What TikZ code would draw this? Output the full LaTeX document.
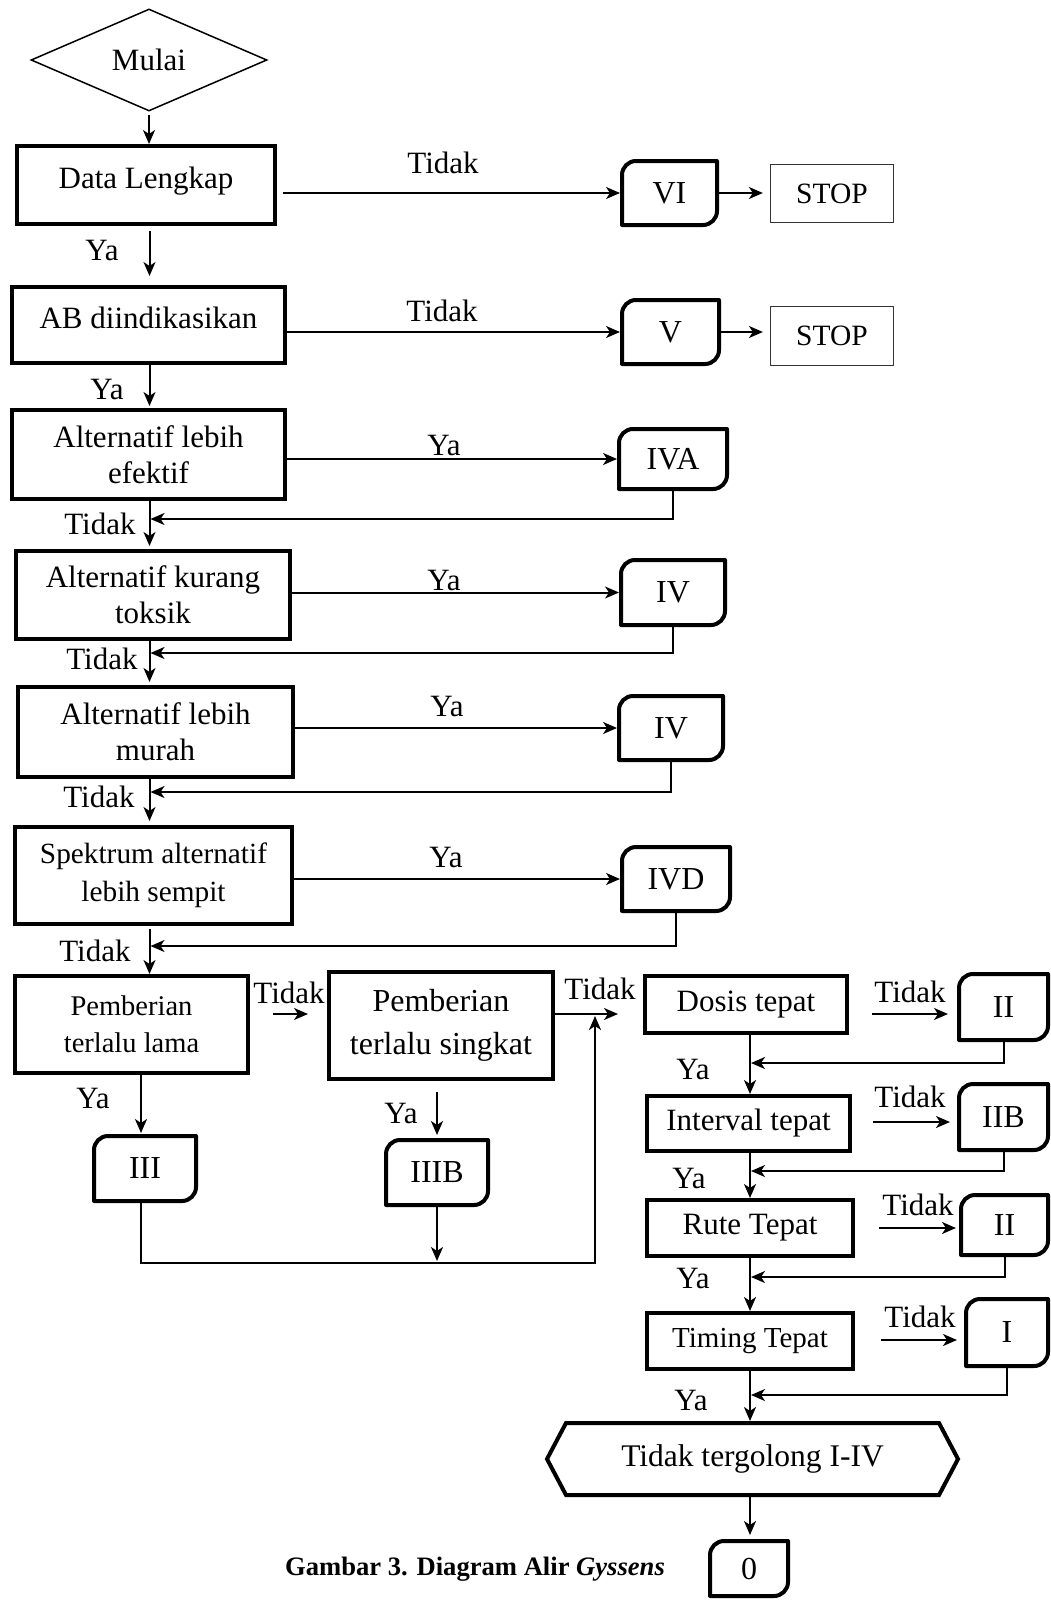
\documentclass[tikz,border=0pt]{standalone}
\usepackage{fontspec}
\setmainfont{Liberation Serif}
\usetikzlibrary{shapes.geometric,arrows.meta,calc}
\newcommand\fsz[2]{\fontsize{#1}{#2}\selectfont}
\newcommand\resbox[5]{%
 \node[resn,minimum width=#3,minimum height=#4] (#1) at #2 {#5};
 \draw[resl] ([xshift=14pt]#1.north west) -- (#1.north east) -- ([yshift=14pt]#1.south east)
   .. controls ([yshift=6.3pt]#1.south east) and ([xshift=-6.3pt]#1.south east) .. ([xshift=-14pt]#1.south east) -- (#1.south west)
   -- ([yshift=-14pt]#1.north west) .. controls ([yshift=-6.3pt]#1.north west) and ([xshift=6.3pt]#1.north west) .. ([xshift=14pt]#1.north west) -- cycle;}
\begin{document}
\begin{tikzpicture}[x=1pt,y=-1pt,
 box/.style={draw,line width=4pt,inner sep=0pt,align=center,font=\fsz{31}{36}},
 resn/.style={inner sep=0pt,outer sep=0pt,font=\fsz{32}{36}},
 resl/.style={line width=4pt,line join=round},
 stopbox/.style={draw=black!80,line width=1.2pt,inner sep=0pt,font=\fsz{29.5}{34}},
 arr/.style={line width=2pt,-{Stealth[length=14pt,width=12pt,inset=4pt]}},
 lbl/.style={inner sep=0pt,font=\fsz{31}{36}},
]
\path[fill=white,use as bounding box] (0,0) rectangle (1051,1600);

% helper coordinates
\coordinate (mx) at (149.5,0);
\coordinate (c3) at (141,0);
\coordinate (mx3) at (750,0);
\coordinate (rowA) at (0,1014);
\coordinate (rowB) at (0,1122);
\coordinate (rowC) at (0,1228);
\coordinate (rowD) at (0,1340);
\coordinate (ra) at (0,519);
\coordinate (rb) at (0,653);
\coordinate (rc) at (0,792);
\coordinate (rd) at (0,946);
\coordinate (re) at (0,1063);
\coordinate (rf) at (0,1171);
\coordinate (rg) at (0,1277);
\coordinate (rh) at (0,1395);
\coordinate (loopR) at (595,1263);

% start
\node[draw,diamond,line width=1.5pt,minimum width=236pt,minimum height=102pt,inner sep=0pt,font=\fsz{31}{36}] (mulai) at (149,60) {Mulai};

% main boxes
\node[box,minimum width=258pt,minimum height=78pt,text depth=14pt] (data) at (146,185) {Data Lengkap};
\node[box,minimum width=273pt,minimum height=76pt,text depth=14pt] (ab) at (148.5,325) {AB diindikasikan};
\node[box,minimum width=273pt,minimum height=89pt] (efektif) at (148.5,454.5) {Alternatif lebih\\efektif};
\node[box,minimum width=274pt,minimum height=88pt] (toksik) at (153,595) {Alternatif kurang\\toksik};
\node[box,minimum width=275pt,minimum height=90pt] (murah) at (155.5,732) {Alternatif lebih\\murah};
\node[box,minimum width=277pt,minimum height=97pt,font=\fsz{29.3}{38}] (sempit) at (153.5,875.5) {Spektrum alternatif\\lebih sempit};
\node[box,minimum width=233pt,minimum height=97pt,font=\fsz{28.5}{37}] (p1) at (131.5,1024.5) {Pemberian\\terlalu lama};
\node[box,minimum width=224pt,minimum height=107pt,font=\fsz{32}{43}] (p2) at (441,1025.5) {Pemberian\\terlalu singkat};
\node[box,minimum width=202pt,minimum height=57pt] (dosis) at (746,1004.5) {Dosis tepat};
\node[box,minimum width=203pt,minimum height=55pt] (interval) at (748.5,1123.5) {Interval tepat};
\node[box,minimum width=206pt,minimum height=56pt] (rute) at (750,1228) {Rute Tepat};
\node[box,minimum width=206pt,minimum height=56pt,font=\fsz{29}{34}] (timing) at (750,1341) {Timing Tepat};

% stop boxes
\node[stopbox,minimum width=123pt,minimum height=58pt] (stop1) at (832,193.5) {STOP};
\node[stopbox,minimum width=123pt,minimum height=59pt] (stop2) at (832,336) {STOP};

% result boxes
\resbox{vi}{(669.5,193)}{95pt}{64pt}{VI}
\resbox{v}{(670.5,332)}{97pt}{64pt}{V}
\resbox{iva}{(673,459)}{108pt}{60pt}{IVA}
\resbox{ivx}{(673,592.5)}{104pt}{65pt}{IV}
\resbox{ivy}{(671,728)}{104pt}{64pt}{IV}
\resbox{ivd}{(676,879)}{108pt}{64pt}{IVD}
\resbox{iii}{(145,1168.5)}{102pt}{65pt}{III}
\resbox{iiib}{(437,1172.5)}{102pt}{65pt}{IIIB}
\resbox{iia}{(1003.5,1007)}{89pt}{66pt}{II}
\resbox{iib}{(1003.5,1117)}{89pt}{66pt}{IIB}
\resbox{iic}{(1004.5,1225)}{87pt}{60pt}{II}
\resbox{ione}{(1007,1332.5)}{82pt}{67pt}{I}
\resbox{zero}{(749,1568.5)}{78pt}{55pt}{0}

% hexagon
\node[inner sep=0pt,outer sep=0pt,minimum width=411pt,minimum height=72pt,font=\fsz{31.5}{36}] (hex) at (752.5,1459) {Tidak tergolong I-IV};
\draw[line width=4pt] (hex.west) -- ([xshift=19pt]hex.north west) -- ([xshift=-19pt]hex.north east) -- (hex.east)
  -- ([xshift=-19pt]hex.south east) -- ([xshift=19pt]hex.south west) -- cycle;

% caption
\node[inner sep=0pt,font=\fsz{26.6}{30}] (cap) at (475,1569) {\textbf{Gambar 3. Diagram Alir \textit{Gyssens}}};

% labels
\node[lbl] (t1) at (443,163) {Tidak};
\node[lbl] (t2) at (442,311) {Tidak};
\node[lbl] (y1) at (102,251) {Ya};
\node[lbl] (y2) at (107,389) {Ya};
\node[lbl] (y3) at (444,445) {Ya};
\node[lbl] (y4) at (444,580) {Ya};
\node[lbl] (y5) at (447,706) {Ya};
\node[lbl] (y6) at (446,857) {Ya};
\node[lbl] (t3) at (100,524) {Tidak};
\node[lbl] (t4) at (102,659) {Tidak};
\node[lbl] (t5) at (99,797) {Tidak};
\node[lbl] (t6) at (95,951) {Tidak};
\node[lbl] (t7) at (289,993) {Tidak};
\node[lbl] (t8) at (600,989) {Tidak};
\node[lbl] (y7) at (93,1098) {Ya};
\node[lbl] (y8) at (401,1113) {Ya};
\node[lbl] (t9) at (910,992) {Tidak};
\node[lbl] (t10) at (910,1097) {Tidak};
\node[lbl] (t11) at (918,1205) {Tidak};
\node[lbl] (t12) at (920,1317) {Tidak};
\node[lbl] (y9) at (693,1069) {Ya};
\node[lbl] (y10) at (689,1178) {Ya};
\node[lbl] (y11) at (693,1278) {Ya};
\node[lbl] (y12) at (691,1400) {Ya};

% connectors: main column
\draw[arr,shorten <=3pt] (mulai.south) -- (mulai.south |- data.north);
\draw[arr,shorten <=5pt,shorten >=9pt] (data.south -| mx) -- (ab.north -| mx);
\draw[arr,shorten >=2pt] (ab.south -| mx) -- (efektif.north -| mx);
\draw[arr,shorten >=3pt] (efektif.south -| mx) -- (toksik.north -| mx);
\draw[arr,shorten >=3pt] (toksik.south -| mx) -- (murah.north -| mx);
\draw[arr,shorten >=4pt] (murah.south -| mx) -- (sempit.north -| mx);
\draw[arr,shorten <=3pt] (sempit.south -| mx) -- (p1.north -| mx);

% to result boxes
\draw[arr,shorten <=6pt,shorten >=2pt] (data.east |- vi.west) -- (vi.west);
\draw[arr,shorten <=2pt,shorten >=7pt] (vi.east) -- (vi.east -| stop1.west);
\draw[arr,shorten >=2pt] (ab.east |- v.west) -- (v.west);
\draw[arr,shorten <=2pt,shorten >=7pt] (v.east) -- (v.east -| stop2.west);
\draw[arr,shorten >=2pt] (efektif.east |- iva.west) -- (iva.west);
\draw[arr,shorten >=2pt] (toksik.east |- ivx.west) -- (ivx.west);
\draw[arr,shorten >=2pt] (murah.east |- ivy.west) -- (ivy.west);
\draw[arr,shorten >=2pt] (sempit.east |- ivd.west) -- (ivd.west);

% returns
\draw[arr,shorten >=1pt] (iva.south) |- (ra -| mx);
\draw[arr,shorten >=1pt] (ivx.south) |- (rb -| mx);
\draw[arr,shorten >=1pt] (ivy.south) |- (rc -| mx);
\draw[arr,shorten >=1pt] (ivd.south) |- (rd -| mx);

% pemberian row
\draw[arr,shorten <=23pt,shorten >=19pt] (p1.east |- rowA) -- (p2.west |- rowA);
\draw[arr,shorten >=25pt] (p2.east |- rowA) -- (dosis.west |- rowA);
\draw[arr,shorten >=3pt] (p1.south -| c3) -- (iii.north -| c3);
\draw[arr,shorten <=11pt,shorten >=5pt] (p2.south -| iiib.north) -- (iiib.north);
\draw[arr,shorten >=2pt] (iiib.south) -- (iiib.south |- loopR);
\draw[arr,shorten >=2pt] (iii.south -| c3) |- (loopR) -- (loopR |- rowA);

% right column
\draw[arr] (dosis.south -| mx3) -- (interval.north -| mx3);
\draw[arr] (interval.south -| mx3) -- (rute.north -| mx3);
\draw[arr] (rute.south -| mx3) -- (timing.north -| mx3);
\draw[arr,shorten >=2pt] (timing.south -| mx3) -- (hex.north -| mx3);
\draw[arr,shorten <=2pt,shorten >=6pt] (hex.south -| mx3) -- (zero.north -| mx3);

\draw[arr,shorten <=23pt,shorten >=11pt] (dosis.east |- rowA) -- (iia.west |- rowA);
\draw[arr,shorten <=21pt,shorten >=9pt] (interval.east |- rowB) -- (iib.west |- rowB);
\draw[arr,shorten <=24pt,shorten >=5pt] (rute.east |- rowC) -- (iic.west |- rowC);
\draw[arr,shorten <=26pt,shorten >=9pt] (timing.east |- rowD) -- (ione.west |- rowD);

\draw[arr,shorten >=1pt] (iia.south) |- (re -| mx3);
\draw[arr,shorten >=1pt] (iib.south) |- (rf -| mx3);
\draw[arr,shorten >=1pt] (iic.south) |- (rg -| mx3);
\draw[arr,shorten >=1pt] (ione.south) |- (rh -| mx3);
\end{tikzpicture}
\end{document}
